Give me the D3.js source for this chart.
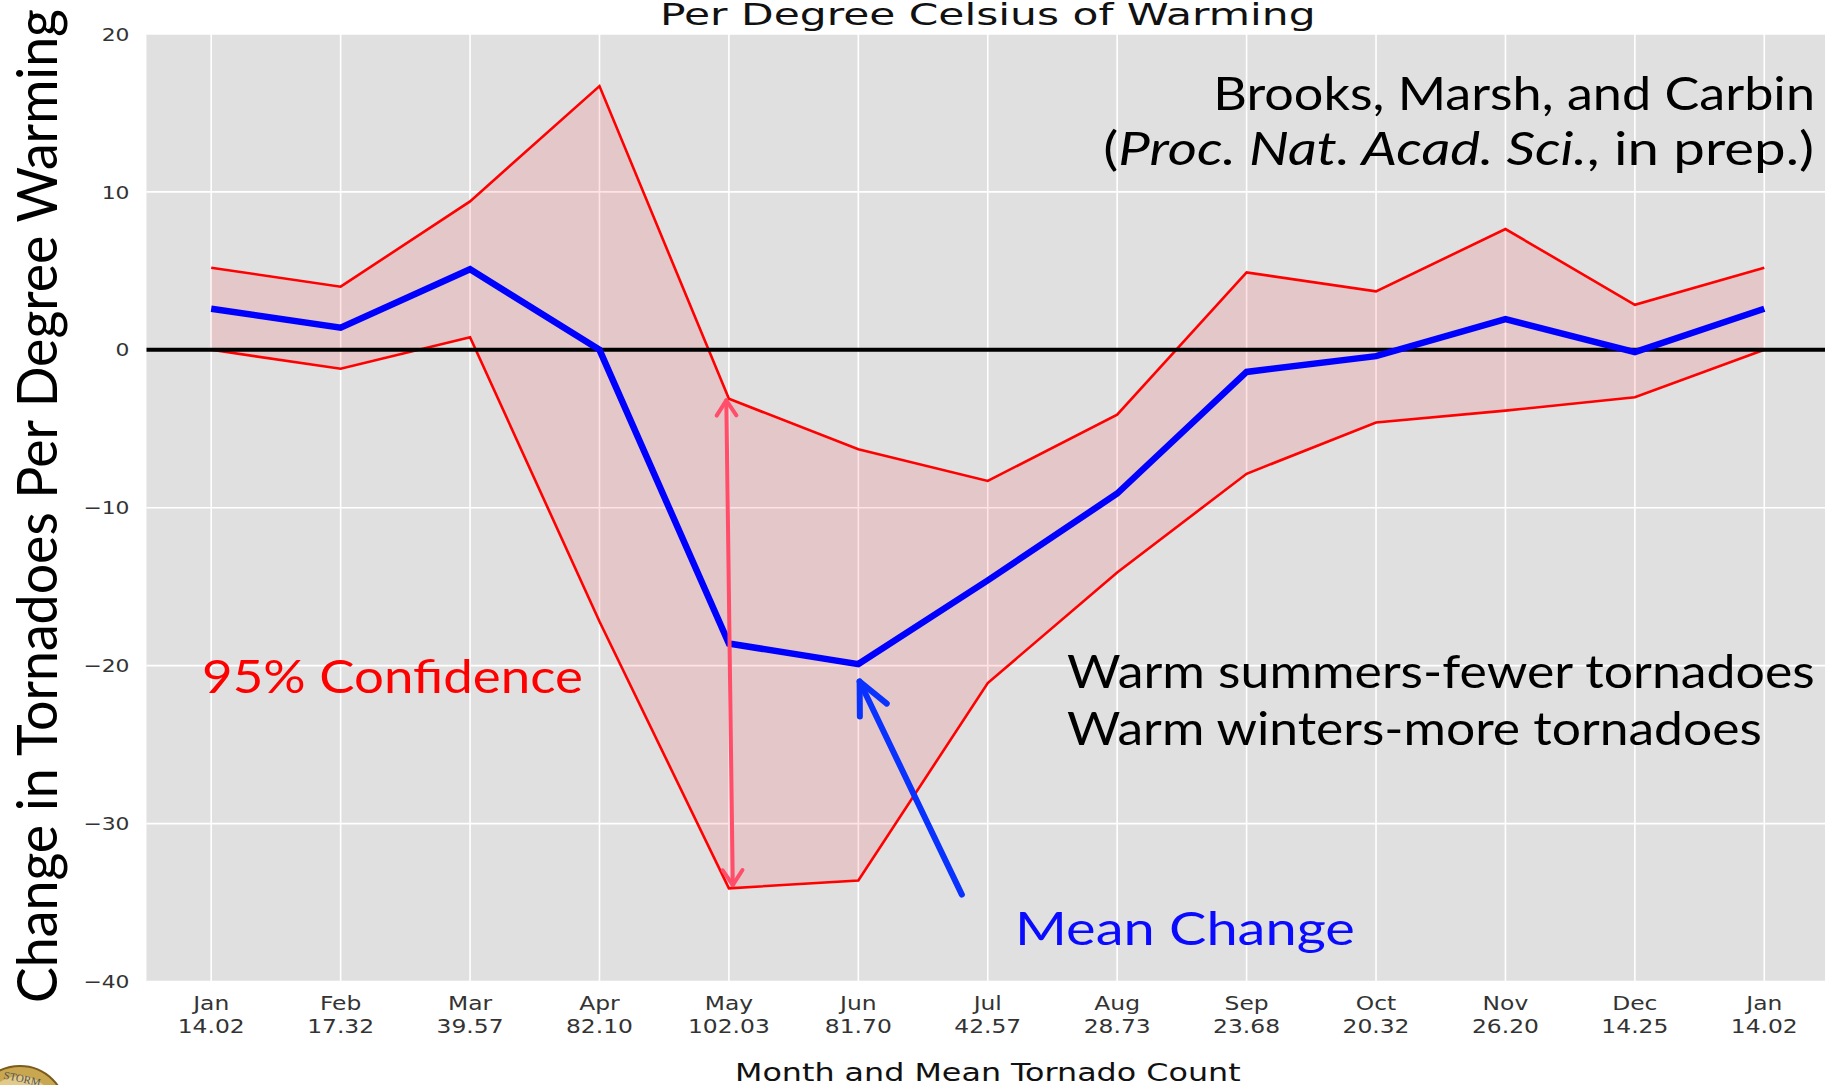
<!DOCTYPE html>
<html>
<head>
<meta charset="utf-8">
<script src="https://cdn.jsdelivr.net/npm/d3@7"></script>
<style>
  body { margin: 0; background: #fff; }
  svg { display: block; }
</style>
</head>
<body>
<svg id="chart" width="1825" height="1085"></svg>
<script>
// month labels and mean tornado count shown under each month
var months = ["Jan", "Feb", "Mar", "Apr", "May", "Jun", "Jul", "Aug", "Sep", "Oct", "Nov", "Dec", "Jan"];
var counts = ["14.02", "17.32", "39.57", "82.10", "102.03", "81.70", "42.57", "28.73", "23.68", "20.32", "26.20", "14.25", "14.02"];

// change in tornadoes per degree of warming
var meanChange = [2.6, 1.4, 5.1, 0.0, -18.6, -19.9, -14.6, -9.1, -1.4, -0.4, 1.95, -0.15, 2.6];
var upper = [5.2, 4.0, 9.4, 16.7, -3.1, -6.3, -8.3, -4.1, 4.9, 3.7, 7.65, 2.85, 5.2];
var lower = [0.0, -1.2, 0.8, -17.2, -34.1, -33.6, -21.1, -14.1, -7.85, -4.6, -3.85, -3.0, 0.0];

var yTicks = [-40, -30, -20, -10, 0, 10, 20];

// annotation arrows, in data units [month index, value]
var redArrow = [[3.98, -3.2], [4.03, -33.9]];
var blueArrow = [[5.80, -34.5], [5.01, -21.0]]; // tail, tip

var svg = d3.select("#chart");
var W = 1825;

var x = d3.scaleLinear().domain([-0.5, 12.5]).range([146.5, 1829]);
var y = d3.scaleLinear().domain([-40, 20]).range([981.5, 34]);

var idx = d3.range(months.length);

// stretch a text horizontally about its anchor so it covers a given width
function fit(t, w) {
  var bw = t.node().getBBox().width;
  var ax = +t.attr("x");
  t.attr("transform", "translate(" + ax + ",0) scale(" + (w / bw) + ",1) translate(" + (-ax) + ",0)");
}

// plot background
svg.append("rect")
  .attr("x", x(-0.5)).attr("y", y(20))
  .attr("width", W - x(-0.5)).attr("height", y(-40) - y(20))
  .attr("fill", "#e0e0e0");

// grid
var grid = svg.append("g").attr("stroke", "#fff").attr("stroke-width", 1.6);
grid.selectAll(".vg").data(idx).enter().append("line")
  .attr("x1", function(i) { return x(i); }).attr("x2", function(i) { return x(i); })
  .attr("y1", y(20)).attr("y2", y(-40));
grid.selectAll(".hg").data(yTicks).enter().append("line")
  .attr("x1", x(-0.5)).attr("x2", W)
  .attr("y1", function(d) { return y(d); }).attr("y2", function(d) { return y(d); });

// confidence band
var band = d3.area()
  .x(function(i) { return x(i); })
  .y0(function(i) { return y(lower[i]); })
  .y1(function(i) { return y(upper[i]); });
svg.append("path").datum(idx)
  .attr("d", band)
  .attr("fill", "rgb(255,0,20)")
  .attr("fill-opacity", 0.11);

var line = function(arr) {
  return d3.line().x(function(i) { return x(i); }).y(function(i) { return y(arr[i]); });
};
[upper, lower].forEach(function(arr) {
  svg.append("path").datum(idx)
    .attr("d", line(arr))
    .attr("fill", "none")
    .attr("stroke", "#ff0000")
    .attr("stroke-width", 2.6);
});

// zero line
svg.append("line")
  .attr("x1", x(-0.5)).attr("x2", W)
  .attr("y1", y(0)).attr("y2", y(0))
  .attr("stroke", "#000").attr("stroke-width", 4);

// mean change
svg.append("path").datum(idx)
  .attr("d", line(meanChange))
  .attr("fill", "none")
  .attr("stroke", "#0000ff")
  .attr("stroke-width", 6.5)
  .attr("stroke-linejoin", "miter");

// arrows
function head(tip, from, len, ang) {
  var a = Math.atan2(from[1] - tip[1], from[0] - tip[0]);
  var p1 = [tip[0] + len * Math.cos(a + ang), tip[1] + len * Math.sin(a + ang)];
  var p2 = [tip[0] + len * Math.cos(a - ang), tip[1] + len * Math.sin(a - ang)];
  return [p1, tip, p2];
}
function drawArrow(pts, both, color, width, len, ang) {
  var p = pts.map(function(d) { return [x(d[0]), y(d[1])]; });
  var g = svg.append("g")
    .attr("fill", "none").attr("stroke", color)
    .attr("stroke-width", width).attr("stroke-linecap", "round").attr("stroke-linejoin", "round");
  g.append("line").attr("x1", p[0][0]).attr("y1", p[0][1]).attr("x2", p[1][0]).attr("y2", p[1][1]);
  g.append("path").attr("d", d3.line()(head(p[1], p[0], len, ang)));
  if (both) g.append("path").attr("d", d3.line()(head(p[0], p[1], len, ang)));
}
drawArrow(redArrow, true, "#ff4d6a", 4, 18, 0.58);
drawArrow(blueArrow, false, "#0a32ff", 6, 35, 0.44);

// y tick labels
var yl = svg.append("g").attr("font-family", "DejaVu Sans").attr("font-size", 18.5).attr("fill", "#333");
yl.selectAll("text").data(yTicks).enter().append("text")
  .attr("x", 129.5)
  .attr("y", function(d) { return y(d); })
  .attr("dy", "0.36em")
  .attr("text-anchor", "end")
  .text(d3.format("d"))
  .each(function() { var t = d3.select(this); t.attr("transform", "translate(129.5,0) scale(1.18,1) translate(-129.5,0)"); });

// x tick labels
var xl = svg.append("g").attr("font-family", "DejaVu Sans").attr("font-size", 20).attr("fill", "#333")
  .attr("text-anchor", "middle");
xl.selectAll("text").data(idx).enter().append("text")
  .attr("x", function(i) { return x(i); })
  .attr("y", 1010)
  .each(function(i) {
    var t = d3.select(this);
    t.append("tspan").attr("x", x(i)).text(months[i]);
    t.append("tspan").attr("x", x(i)).attr("dy", 23).text(counts[i]);
    t.attr("transform", "translate(" + x(i) + ",0) scale(1.17,1) translate(" + (-x(i)) + ",0)");
  });

// axis titles
var title = svg.append("text")
  .attr("x", 660).attr("y", 25)
  .attr("font-family", "DejaVu Sans").attr("font-size", 31).attr("fill", "#111")
  .text("Per Degree Celsius of Warming");
fit(title, 656);

var xlab = svg.append("text")
  .attr("x", 735).attr("y", 1081)
  .attr("font-family", "DejaVu Sans").attr("font-size", 25).attr("fill", "#111")
  .text("Month and Mean Tornado Count");
fit(xlab, 506);

svg.append("text")
  .attr("transform", "translate(57,506) rotate(-90)")
  .attr("text-anchor", "middle")
  .attr("font-family", "Lato").attr("font-size", 56).attr("fill", "#000")
  .attr("textLength", 994).attr("lengthAdjust", "spacingAndGlyphs")
  .text("Change in Tornadoes Per Degree Warming");

// annotations
var ann = svg.append("g").attr("font-family", "Lato").attr("font-size", 46);
var t1 = ann.append("text").attr("x", 1815).attr("y", 110).attr("text-anchor", "end")
  .text("Brooks, Marsh, and Carbin");
fit(t1, 602);
var t2 = ann.append("text").attr("x", 1814).attr("y", 165).attr("text-anchor", "end");
t2.append("tspan").text("(");
t2.append("tspan").attr("font-style", "italic").text("Proc. Nat. Acad. Sci.");
t2.append("tspan").text(", in prep.)");
fit(t2, 711);
var t3 = ann.append("text").attr("x", 202).attr("y", 693).attr("fill", "#ff0000")
  .text("95% Confidence");
fit(t3, 381);
var t4 = ann.append("text").attr("x", 1067).attr("y", 688)
  .text("Warm summers-fewer tornadoes");
fit(t4, 748);
var t5 = ann.append("text").attr("x", 1067).attr("y", 745)
  .text("Warm winters-more tornadoes");
fit(t5, 695);
var t6 = ann.append("text").attr("x", 1015).attr("y", 945).attr("fill", "#0a0aff")
  .text("Mean Change");
fit(t6, 340);

// partial logo in the bottom-left corner
var logo = svg.append("g");
logo.append("circle").attr("cx", 20).attr("cy", 1112).attr("r", 46)
  .attr("fill", "#c9a650").attr("stroke", "#7a5c1c").attr("stroke-width", 2);
logo.append("circle").attr("cx", 20).attr("cy", 1112).attr("r", 36)
  .attr("fill", "#e2cb8a");
logo.append("text").attr("x", 3).attr("y", 1082)
  .attr("transform", "rotate(12,20,1080)")
  .attr("font-family", "Liberation Serif").attr("font-size", 11).attr("fill", "#555")
  .text("STORM");
</script>
</body>
</html>
